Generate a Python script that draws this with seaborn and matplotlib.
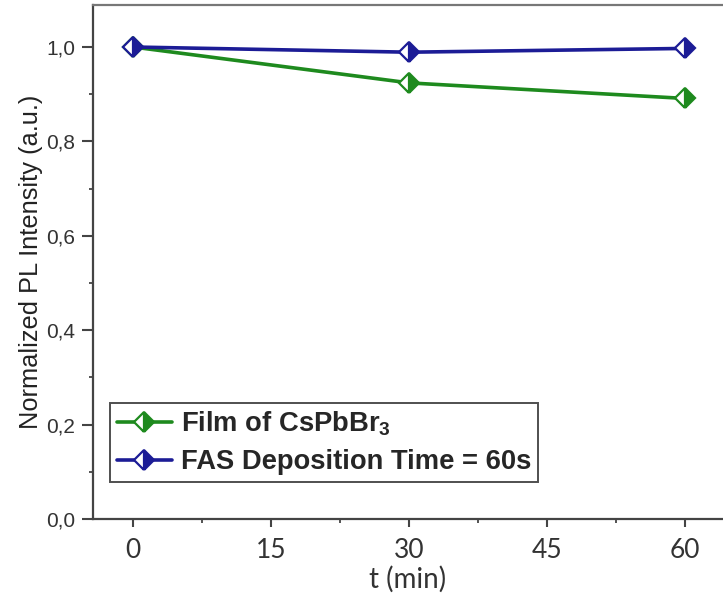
import numpy as np
import pandas as pd
import seaborn as sns
import matplotlib
matplotlib.use("Agg")
import matplotlib.pyplot as plt
from matplotlib.ticker import MultipleLocator, FuncFormatter

# data
t_min = [0, 30, 60]
film_cspbbr3 = [1.0, 0.924, 0.891]
fas_60s = [1.0, 0.989, 0.997]
labels = [r"Film of CsPbBr$_\mathbf{3}$", "FAS Deposition Time = 60s"]
colors = ["#1e8a1e", "#1c1c96"]

sns.set_style("ticks")
plt.rcParams["font.family"] = ["Liberation Sans", "DejaVu Sans"]
plt.rcParams["mathtext.fontset"] = "custom"
plt.rcParams["mathtext.rm"] = "Liberation Sans"
plt.rcParams["mathtext.bf"] = "Liberation Sans:bold"

fig = plt.figure(figsize=(7.23, 6.08), dpi=100)
ax = fig.add_axes([93 / 723, 1 - 519 / 608, 1 - 93 / 723, 514 / 608])

for y, lab, c in zip([film_cspbbr3, fas_60s], labels, colors):
    sns.lineplot(x=t_min, y=y, ax=ax, label=lab, color=c, lw=2.6,
                 marker="D", markersize=10, fillstyle="right",
                 markerfacecolor=c, markerfacecoloralt="white",
                 markeredgecolor=c, markeredgewidth=1.6)

ax.set_xlim(-4.35, 64.13)
ax.set_ylim(0, 1.089)
ax.xaxis.set_major_locator(MultipleLocator(15))
ax.xaxis.set_minor_locator(MultipleLocator(7.5))
ax.yaxis.set_major_locator(MultipleLocator(0.2))
ax.yaxis.set_minor_locator(MultipleLocator(0.1))
ax.yaxis.set_major_formatter(FuncFormatter(lambda v, p: f"{v:.1f}".replace(".", ",")))

for s in ["left", "bottom"]:
    ax.spines[s].set_color("#444444")
    ax.spines[s].set_linewidth(1.6)
ax.spines["top"].set_color("#777777")
ax.spines["top"].set_linewidth(1.6)
ax.spines["right"].set_visible(False)

ax.tick_params(axis="y", which="major", direction="out", length=8, width=1.5, color="#444444")
ax.tick_params(axis="x", which="major", direction="out", length=6, width=1.5, color="#444444")
ax.tick_params(axis="both", which="minor", direction="out", length=3, width=1.3, color="#444444")
ax.tick_params(axis="y", labelsize=15, labelcolor="#333333", pad=5)
ax.tick_params(axis="x", labelsize=19, labelcolor="#333333", pad=8)
for lbl in ax.get_xticklabels():
    lbl.set_family("Lato")

ax.set_xlabel("t (min)", fontsize=20, family="Lato", color="#333333", labelpad=2)
ax.set_ylabel("Normalized PL Intensity (a.u.)", fontsize=18.3, color="#222222", labelpad=2)

leg = ax.legend(loc="upper left", bbox_to_anchor=(0.027, 0.2257), borderaxespad=0,
                prop={"weight": "bold", "size": 19.7}, frameon=True, fancybox=False,
                handlelength=2.0, handletextpad=0.35, borderpad=0.25, labelspacing=0.4)
leg.get_frame().set_edgecolor("#222222")
leg.get_frame().set_linewidth(1.4)

fig.savefig("out.png", dpi=100)
